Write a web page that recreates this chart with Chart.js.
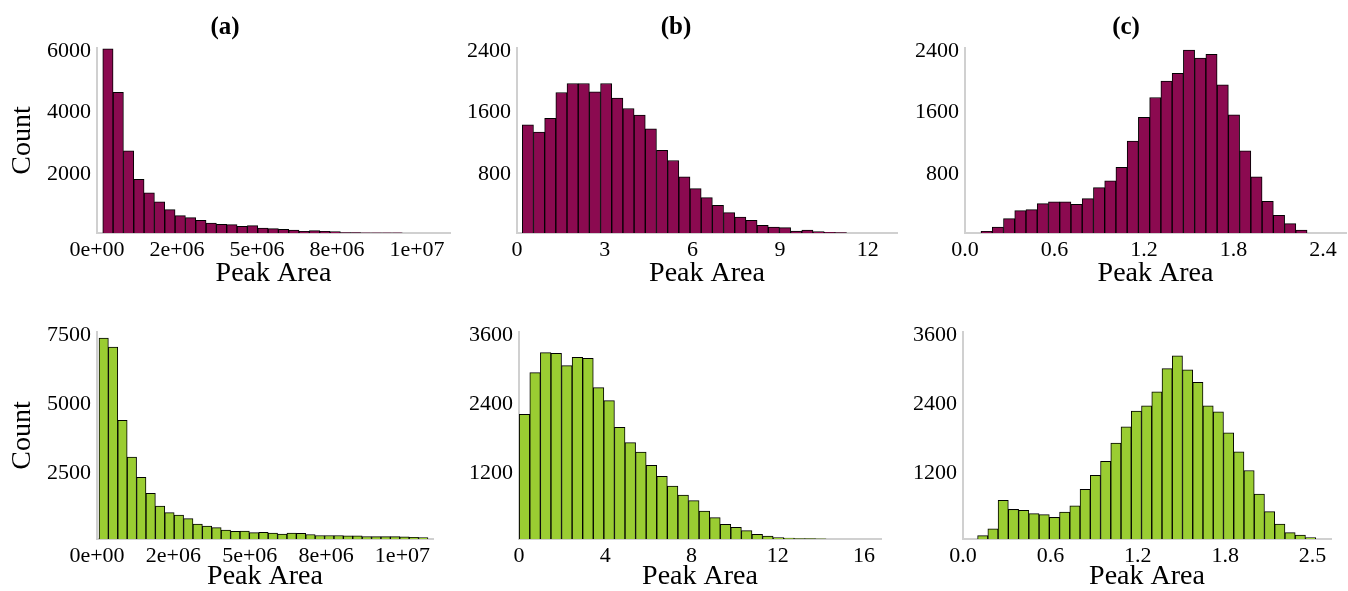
<!DOCTYPE html>
<html>
<head>
<meta charset="utf-8">
<title>Peak Area histograms</title>
<script src="https://cdn.jsdelivr.net/npm/chart.js@4.4.0/dist/chart.umd.min.js"></script>
<style>
  body { margin: 0; background: #fff; width: 1348px; height: 591px; position: relative; overflow: hidden; }
  canvas { position: absolute; }
</style>
</head>
<body>
<canvas id="topA" width="545" height="288" style="left:0px;top:0px"></canvas>
<canvas id="topB" width="490" height="288" style="left:455px;top:0px"></canvas>
<canvas id="topC" width="442" height="288" style="left:906px;top:0px"></canvas>
<canvas id="botA" width="545" height="291" style="left:0px;top:300px"></canvas>
<canvas id="botB" width="490" height="291" style="left:455px;top:300px"></canvas>
<canvas id="botC" width="442" height="291" style="left:906px;top:300px"></canvas>

<script>
// ---- counts per bin (left to right) ----
const countsTopA = [5970, 4561, 2665, 1744, 1300, 1008, 758, 563, 498, 412, 325, 282, 271, 217, 238,
                    163, 141, 119, 98, 54, 76, 54, 43, 12, 10, 8, 6, 5, 4];
const countsTopB = [1403, 1308, 1486, 1823, 1940, 1940, 1832, 1940, 1750, 1615, 1529, 1351, 1074, 940, 728,
                    576, 459, 360, 264, 208, 165, 100, 78, 69, 26, 39, 17, 9, 4];
const countsTopC = [22, 78, 186, 290, 303, 381, 403, 403, 372, 446, 589, 676, 853, 1191, 1499,
                    1758, 1971, 2070, 2373, 2269, 2317, 1923, 1533, 1065, 728, 411, 230, 121, 39];
const countsBotA = [7283, 6957, 4300, 2971, 2234, 1655, 1196, 954, 870, 737, 543, 471, 411, 326, 278,
                    285, 230, 242, 210, 175, 210, 205, 163, 127, 127, 127, 115, 115, 90, 85,
                    85, 85, 78, 60, 48];
const countsBotB = [2168, 2893, 3241, 3229, 3014, 3159, 3142, 2632, 2406, 1942, 1675, 1513, 1281, 1090, 922,
                    765, 667, 487, 371, 255, 203, 145, 81, 52, 23, 17, 6, 6, 3];
const countsBotC = [58, 179, 671, 515, 498, 440, 423, 376, 469, 579, 862, 1106, 1349, 1667, 1951,
                    2223, 2315, 2559, 2964, 3184, 2941, 2726, 2315, 2211, 1847, 1517, 1192, 781, 475, 260,
                    110, 69, 23];

// ---- bins: left edge of first bin and bin width (x units) ----
const binsTopA = [0.18e6, 0.3228e6];
const binsTopB = [0.181, 0.3825];
const binsTopC = [0.1073, 0.0754];
const binsBotA = [0.065e6, 0.3077e6];
const binsBotB = [0.01, 0.4907];
const binsBotC = [0.1023, 0.0718];

// ---- tick values and their labels ----
const xTicksSci   = [0, 2.5e6, 5e6, 7.5e6, 1e7];
const xLabelsSci  = ['0e+00', '2e+06', '5e+06', '8e+06', '1e+07'];
const xTicksTopB  = [0, 3, 6, 9, 12];
const xTicksBotB  = [0, 4, 8, 12, 16];
const xTicksTopC  = [0, 0.6, 1.2, 1.8, 2.4];
const xLabelsTopC = ['0.0', '0.6', '1.2', '1.8', '2.4'];
const xTicksBotC  = [0, 0.6125, 1.225, 1.8375, 2.45];
const xLabelsBotC = ['0.0', '0.6', '1.2', '1.8', '2.5'];

const yTicksTopA = [2000, 4000, 6000];
const yTicksTopBC = [800, 1600, 2400];
const yTicksBotA = [2500, 5000, 7500];
const yTicksBotBC = [1200, 2400, 3600];

const MAROON = '#8B0A50';   // deeppink4
const GREEN  = '#9ACD32';   // yellowgreen
const SERIF  = "'Liberation Serif', 'Times New Roman', serif";

function makeHist(id, counts, bins, color, cfg) {
    const ctx = document.getElementById(id).getContext('2d');

    // histogram bars sit at the bin centres on a linear x scale
    const points = counts.map((c, i) => ({ x: bins[0] + (i + 0.5) * bins[1], y: c }));

    return new Chart(ctx, {
        type: 'bar',
        data: {
            datasets: [{
                data: points,
                backgroundColor: color,
                borderColor: '#000',
                borderWidth: 1,
                barPercentage: 1,
                categoryPercentage: 1
            }]
        },
        options: {
            responsive: false,
            animation: false,
            devicePixelRatio: 1,
            layout: { padding: { top: cfg.padTop, right: cfg.padRight, left: 0, bottom: 0 } },
            plugins: {
                legend: { display: false },
                tooltip: { enabled: false },
                title: {
                    display: !!cfg.title,
                    text: cfg.title,
                    color: '#000',
                    font: { family: SERIF, size: 25, weight: 'bold' },
                    padding: { top: 13, bottom: 5 }
                }
            },
            scales: {
                x: {
                    type: 'linear',
                    min: 0,
                    max: cfg.xMax,
                    offset: false,
                    grid: { display: false, drawTicks: false },
                    border: { display: true, color: '#d0d0d0', width: 2 },
                    afterBuildTicks: s => { s.ticks = cfg.xTicks.map(v => ({ value: v })); },
                    afterFit: s => { s.height = cfg.xHeight; },
                    ticks: {
                        autoSkip: false,
                        maxRotation: 0,
                        padding: 4,
                        color: '#000',
                        font: { family: SERIF, size: 22 },
                        callback: v => cfg.xLabels[cfg.xTicks.indexOf(v)]
                    },
                    title: {
                        display: true,
                        text: 'Peak Area',
                        color: '#000',
                        font: { family: SERIF, size: 28, lineHeight: 1 },
                        padding: 0
                    }
                },
                y: {
                    min: 0,
                    max: cfg.yMax,
                    grid: { display: false, drawTicks: false },
                    border: { display: true, color: '#d0d0d0', width: 2 },
                    afterBuildTicks: s => { s.ticks = cfg.yTicks.map(v => ({ value: v })); },
                    afterFit: s => { s.width = cfg.yWidth; },
                    ticks: {
                        padding: 6,
                        labelOffset: 3,      // labels sit a little below their tick in the original
                        color: '#000',
                        font: { family: SERIF, size: 22 },
                        callback: v => String(v)
                    },
                    title: {
                        display: !!cfg.countTitle,
                        text: 'Count',
                        color: '#000',
                        font: { family: SERIF, size: 28, lineHeight: 1 },
                        padding: { top: 9, bottom: 0 }
                    }
                }
            }
        }
    });
}

// top row (maroon)
makeHist('topA', countsTopA, binsTopA, MAROON, {
    title: '(a)', countTitle: true, padTop: 0, padRight: 95, yWidth: 97, xHeight: 55,
    xMax: 11.03e6, xTicks: xTicksSci, xLabels: xLabelsSci, yMax: 6000, yTicks: yTicksTopA
});
makeHist('topB', countsTopB, binsTopB, MAROON, {
    title: '(b)', countTitle: false, padTop: 0, padRight: 48, yWidth: 62, xHeight: 55,
    xMax: 13.0, xTicks: xTicksTopB, xLabels: xTicksTopB.map(String), yMax: 2400, yTicks: yTicksTopBC
});
makeHist('topC', countsTopC, binsTopC, MAROON, {
    title: '(c)', countTitle: false, padTop: 0, padRight: 2, yWidth: 59, xHeight: 55,
    xMax: 2.555, xTicks: xTicksTopC, xLabels: xLabelsTopC, yMax: 2400, yTicks: yTicksTopBC
});

// bottom row (green)
makeHist('botA', countsBotA, binsBotA, GREEN, {
    title: '', countTitle: true, padTop: 32, padRight: 112, yWidth: 97, xHeight: 52,
    xMax: 11.0e6, xTicks: xTicksSci, xLabels: xLabelsSci, yMax: 7500, yTicks: yTicksBotA
});
makeHist('botB', countsBotB, binsBotB, GREEN, {
    title: '', countTitle: false, padTop: 32, padRight: 64, yWidth: 64, xHeight: 52,
    xMax: 16.79, xTicks: xTicksBotB, xLabels: xTicksBotB.map(String), yMax: 3600, yTicks: yTicksBotBC
});
makeHist('botC', countsBotC, binsBotC, GREEN, {
    title: '', countTitle: false, padTop: 32, padRight: 17, yWidth: 57, xHeight: 52,
    xMax: 2.579, xTicks: xTicksBotC, xLabels: xLabelsBotC, yMax: 3600, yTicks: yTicksBotBC
});
</script>
</body>
</html>
